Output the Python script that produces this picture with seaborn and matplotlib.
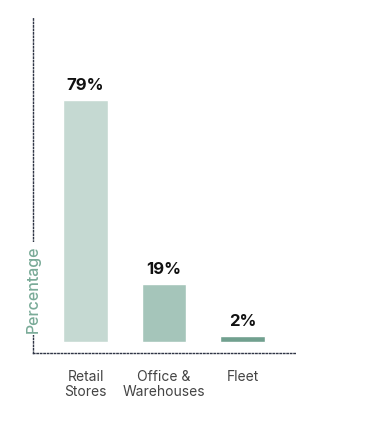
import matplotlib
matplotlib.use("Agg")
import matplotlib.pyplot as plt
import seaborn as sns
import pandas as pd

categories = ["Retail\nStores", "Office &\nWarehouses", "Fleet"]
values = [79, 19, 2]
value_labels = ["79%", "19%", "2%"]
colors = ["#c5d9d2", "#a5c5ba", "#71a08f"]

sns.set_theme(style="white")
plt.rcParams['font.family'] = ['Inter', 'DejaVu Sans']

df = pd.DataFrame({"cat": categories, "val": values})

fig = plt.figure(figsize=(3.78, 4.29), dpi=100)
ax = fig.add_axes([33/378, 1 - 353/429, (295-33)/378, (353-17)/429])

sns.barplot(data=df, x="cat", y="val", hue="cat", palette=colors, legend=False,
            width=0.57, saturation=1, ax=ax)

for i, (v, lab) in enumerate(zip(values, value_labels)):
    ax.annotate(lab, (i, v), xytext=(0, 5), textcoords="offset points",
                ha="center", va="bottom", fontsize=12, fontweight="bold", color="#111111")

ax.set_xlim(-0.67, 2.67)
ax.set_ylim(-3.6, 106)
ax.set_xlabel("")
ax.set_ylabel("")
ax.set_yticks([])
ax.tick_params(axis="x", length=0, pad=12, labelsize=10, labelcolor="#444444")
for t in ax.get_xticklabels():
    t.set_linespacing(1.15)

for s in ["top", "right"]:
    ax.spines[s].set_visible(False)
for s in ["left", "bottom"]:
    ax.spines[s].set_linestyle((0, (1, 1.5)))
    ax.spines[s].set_color("#2f3545")
    ax.spines[s].set_linewidth(1.0)

ax.text(0, 17.3, "Percentage", transform=ax.get_yaxis_transform(), rotation=90,
        ha="center", va="center", fontsize=11.5, fontweight="medium", color="#7aab98",
        bbox=dict(facecolor="white", edgecolor="none", pad=2))

fig.savefig("out.png", dpi=100)
